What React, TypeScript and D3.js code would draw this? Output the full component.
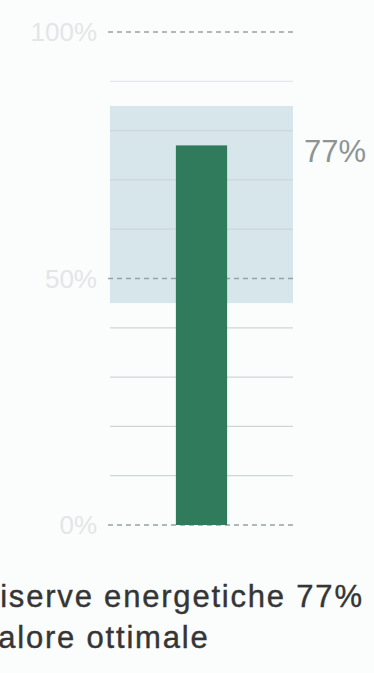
import React from "react";
import * as d3 from "d3";

const seriesLabel = "Riserve energetiche";
const value = 77;
const optimalRange = [45, 85];
const optimalLabel = "Valore ottimale";
const axisTicks = [0, 50, 100];
const gridTicks = [10, 20, 30, 40, 60, 70, 80, 90];

const W = 374;
const H = 673;

export default function App() {
  const y = d3.scaleLinear().domain([0, 100]).range([525, 32]);
  const x0 = 110;
  const x1 = 293;
  const barX = d3.scaleBand().domain([seriesLabel]).range([x0, x1]).paddingInner(0.72).paddingOuter(0.36);
  const fmt = (v: number) => `${v}%`;
  return (
    <svg width={W} height={H} style={{ position: "absolute", left: 0, top: 0, background: "#fbfdfd" }}>
      <rect
        x={x0}
        y={y(optimalRange[1])}
        width={x1 - x0}
        height={y(optimalRange[0]) - y(optimalRange[1])}
        fill="#d7e6ea"
      />
      {gridTicks.map((t) => (
        <line key={t} x1={x0} x2={x1} y1={y(t)} y2={y(t)} stroke={t === 90 ? "#e3e9ea" : "#cdd6d8"} strokeWidth={1.2} />
      ))}
      {axisTicks.map((t) => (
        <g key={t}>
          <line x1={x0 - 2} x2={x1 + 2} y1={y(t)} y2={y(t)} stroke="#98a2a4" strokeWidth={1.6} strokeDasharray="5,4" />
          <text
            x={97}
            y={y(t)}
            dy="0.35em"
            textAnchor="end"
            fontFamily="Liberation Sans, Arial, sans-serif"
            fontSize={26}
            fill="#e2e6e6"
          >
            {fmt(t)}
          </text>
        </g>
      ))}
      <rect
        x={barX(seriesLabel)}
        y={y(value)}
        width={barX.bandwidth()}
        height={y(0) - y(value)}
        fill="#2f7b5b"
      />
      <text
        x={304}
        y={162}
        fontFamily="Liberation Sans, Arial, sans-serif"
        fontSize={31}
        fill="#8c9494"
      >
        {fmt(value)}
      </text>
      <text x={-24} y={607} fontFamily="Liberation Sans, Arial, sans-serif" fontSize={31} letterSpacing={1.8} fill="#353535" stroke="#353535" strokeWidth={0.4}>
        {`${seriesLabel} ${fmt(value)}`}
      </text>
      <text x={-22} y={648} fontFamily="Liberation Sans, Arial, sans-serif" fontSize={31} letterSpacing={1.8} fill="#353535" stroke="#353535" strokeWidth={0.4}>
        {optimalLabel}
      </text>
    </svg>
  );
}
